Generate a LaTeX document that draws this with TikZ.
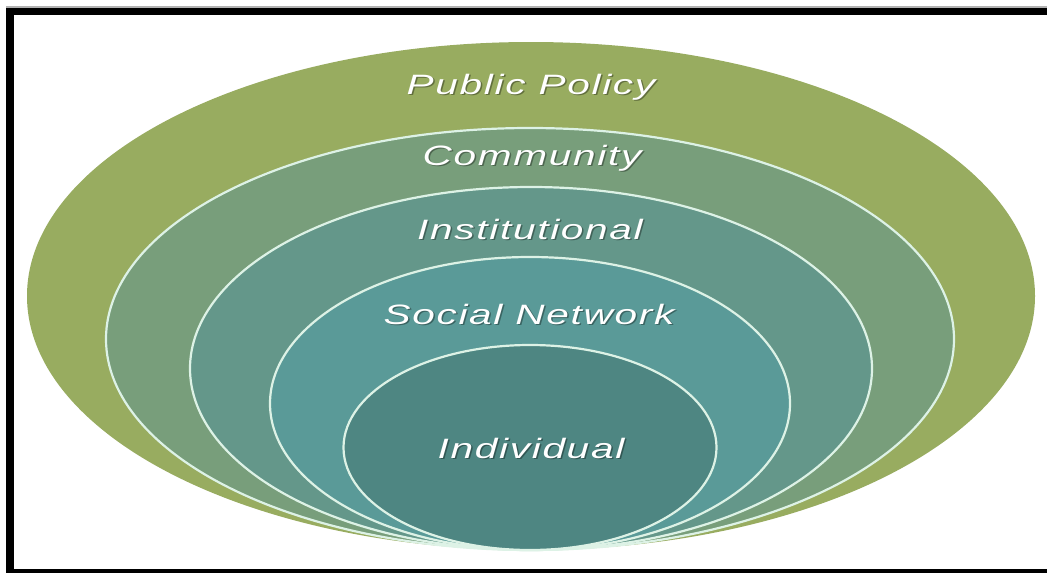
\documentclass[tikz,border=0pt]{standalone}
\usepackage{fontspec}
\usetikzlibrary{shapes.geometric}
\newfontfamily\handfont{Liberation Sans}[ItalicFont={Liberation Sans Italic},FakeStretch=1.45,LetterSpace=6]
\definecolor{cpp}{HTML}{98AC60}
\definecolor{ccomm}{HTML}{789E7B}
\definecolor{cinst}{HTML}{64978A}
\definecolor{csoc}{HTML}{5A9A98}
\definecolor{cind}{HTML}{4E8682}
\definecolor{rim}{HTML}{DDF2E6}
\begin{document}
\begin{tikzpicture}[x=1pt,y=-1pt,
  ring/.style={ellipse, inner sep=0pt, draw=rim, line width=2.2pt},
  lbl/.style={text=white, font=\handfont\itshape\fontsize{28}{32}\selectfont, inner sep=0pt},
  shd/.style={text=black, opacity=0.35, font=\handfont\itshape\fontsize{28}{32}\selectfont, inner sep=0pt}]
\useasboundingbox (0,0) rectangle (1047,573);
\fill[white] (0,0) rectangle (1047,573);
% frame
\fill[gray!60] (6,6) rectangle (1047,8);
\fill[black] (6,7.5) rectangle (1047,15);
\fill[black] (6,7.5) rectangle (14,573);
\fill[black] (6,569) rectangle (1047,573);
% ellipses
\node[ellipse, inner sep=0pt, fill=cpp, minimum width=1008pt, minimum height=508pt] (pp) at (531,296) {};
\node[ring, fill=ccomm, minimum width=848pt, minimum height=422pt] (comm) at (530,339) {};
\node[ring, fill=cinst, minimum width=682pt, minimum height=363pt] (inst) at (531,368.5) {};
\node[ring, fill=csoc, minimum width=520pt, minimum height=293pt] (soc) at (530,403.5) {};
\node[ring, fill=cind, minimum width=373pt, minimum height=205pt] (ind) at (530,447.5) {};
% labels
\node[shd] (spp) at (532.5,88.5) {Public Policy};
\node[lbl] (tpp) at (531,87) {Public Policy};
\node[shd] (scomm) at (533.5,159.5) {Community};
\node[lbl] (tcomm) at (532,158) {Community};
\node[shd] (sinst) at (531.5,230.5) {Institutional};
\node[lbl] (tinst) at (530,229) {Institutional};
\node[shd] (ssoc) at (530.5,315.5) {Social Network};
\node[lbl] (tsoc) at (529,314) {Social Network};
\node[shd] (sind) at (532.5,449.5) {Individual};
\node[lbl] (tind) at (531,448) {Individual};
\end{tikzpicture}
\end{document}
